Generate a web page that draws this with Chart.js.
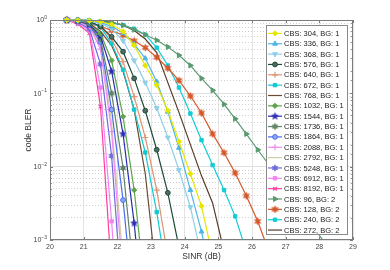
<!DOCTYPE html>
<html><head><meta charset="utf-8">
<script src="https://cdn.jsdelivr.net/npm/chart.js@4.4.1/dist/chart.umd.min.js"></script>
<style>html,body{margin:0;padding:0;background:#fff;}#wrap{width:390px;height:270px;}</style>
</head><body><div id="wrap"><canvas id="c" width="390" height="270"></canvas></div>
<script>
// SINR grid (dB)
const snr = [20.5, 20.83, 21.17, 21.5, 21.83, 22.17, 22.5, 22.83, 23.17, 23.5, 23.83, 24.17,
             24.5, 24.83, 25.17, 25.5, 25.83, 26.17, 26.5, 26.83, 27.17, 27.5, 27.83, 28.17];
const xTicks = [20, 21, 22, 23, 24, 25, 26, 27, 28, 29];
const yTickBase = '10';
const yTickExponents = [0, -1, -2, -3];

// code BLER per configuration
const bler304  = [1, 0.99, 0.98, 0.95, 0.87, 0.7, 0.45, 0.24, 0.13, 0.058, 0.022, 0.008, 0.0029, 0.0006];
const bler336  = [1, 0.99, 0.98, 0.93, 0.82, 0.66, 0.47, 0.3, 0.144, 0.056, 0.018, 0.0048, 0.0013, 0.00025];
const bler368  = [1, 0.99, 0.97, 0.9, 0.76, 0.52, 0.28, 0.14, 0.063, 0.025, 0.009, 0.0028, 0.0006];
const bler576  = [1, 0.99, 0.95, 0.82, 0.59, 0.37, 0.16, 0.058, 0.017, 0.0044, 0.0008, 0.0001];
const bler640  = [1, 0.99, 0.95, 0.82, 0.55, 0.27, 0.09, 0.025, 0.0048, 0.0006];
const bler672  = [1, 0.98, 0.93, 0.8, 0.48, 0.21, 0.06, 0.0156, 0.0024, 0.00028];
const bler768  = [1, 0.98, 0.9, 0.7, 0.45, 0.2, 0.06, 0.008, 0.0003];
const bler1032 = [1, 0.98, 0.9, 0.65, 0.28, 0.048, 0.0048, 0.0002];
const bler1544 = [1, 0.98, 0.88, 0.6, 0.2, 0.028, 0.0017, 0.00005];
const bler1736 = [1, 0.97, 0.86, 0.55, 0.1, 0.0096, 0.0003];
const bler1864 = [1, 0.97, 0.85, 0.5, 0.06, 0.0035, 0.0001];
const bler2088 = [1, 0.95, 0.82, 0.4, 0.03, 0.0003];
const bler2792 = [1, 0.95, 0.83, 0.45, 0.04, 0.0005];
const bler5248 = [1, 0.93, 0.76, 0.25, 0.014, 0.0001];
const bler6912 = [1, 0.92, 0.72, 0.12, 0.0018, 0.00001];
const bler8192 = [1, 0.88, 0.66, 0.066, 0.00035];
const bler96bg2  = [1, 0.99, 0.97, 0.94, 0.92, 0.85, 0.74, 0.63, 0.53, 0.43, 0.33, 0.24, 0.16, 0.11,
                    0.071, 0.045, 0.028, 0.017, 0.0107, 0.0068, 0.0042, 0.0025, 0.0015, 0.0009];
const bler128bg2 = [1, 0.96, 0.9, 0.82, 0.72, 0.62, 0.52, 0.42, 0.31, 0.22, 0.15, 0.092, 0.054, 0.028,
                    0.0155, 0.0082, 0.004, 0.0018, 0.0007];
const bler240bg2 = [1, 1, 0.99, 0.95, 0.91, 0.85, 0.76, 0.63, 0.42, 0.24, 0.12, 0.053, 0.023, 0.0105,
                    0.0048, 0.0021, 0.0007];
const bler272bg2 = [1, 1, 0.99, 0.97, 0.93, 0.85, 0.72, 0.55, 0.36, 0.14, 0.055, 0.02, 0.0075, 0.0032, 0.0007];

const seriesNames = ['CBS: 304, BG: 1','CBS: 336, BG: 1','CBS: 368, BG: 1','CBS: 576, BG: 1','CBS: 640, BG: 1',
  'CBS: 672, BG: 1','CBS: 768, BG: 1','CBS: 1032, BG: 1','CBS: 1544, BG: 1','CBS: 1736, BG: 1','CBS: 1864, BG: 1',
  'CBS: 2088, BG: 1','CBS: 2792, BG: 1','CBS: 5248, BG: 1','CBS: 6912, BG: 1','CBS: 8192, BG: 1',
  'CBS: 96, BG: 2','CBS: 128, BG: 2','CBS: 240, BG: 2','CBS: 272, BG: 2'];
const seriesValues = [bler304, bler336, bler368, bler576, bler640, bler672, bler768, bler1032, bler1544,
  bler1736, bler1864, bler2088, bler2792, bler5248, bler6912, bler8192, bler96bg2, bler128bg2, bler240bg2, bler272bg2];

function starMarker(n, R, r, fill, stroke) {
  const s = Math.ceil(2 * R + 3);
  const c = document.createElement('canvas'); c.width = s; c.height = s;
  const g = c.getContext('2d');
  g.beginPath();
  for (let k = 0; k < 2 * n; k++) {
    const a = -Math.PI / 2 + k * Math.PI / n;
    const rr = k % 2 === 0 ? R : r;
    const px = s / 2 + rr * Math.cos(a), py = s / 2 + rr * Math.sin(a);
    if (k === 0) g.moveTo(px, py); else g.lineTo(px, py);
  }
  g.closePath(); g.fillStyle = fill; g.fill(); g.strokeStyle = stroke; g.lineWidth = 0.7; g.stroke();
  return c;
}

const styles = [
  {c:'#e6e600', p:'rectRot', r:2.6},
  {c:'#4db6e6', p:'triangle', r:2.8},
  {c:'#8ecfe9', p:'triangle', r:2.8, rot:180},
  {c:'#1f4a38', p:'circle', r:2.4, bg:'#4f6e60'},
  {c:'#df9474', p:'cross', r:3},
  {c:'#12c9d1', p:'rect', r:2.4},
  {c:'#6b4a34', p:false, r:0},
  {c:'#5ca64a', p:'rectRot', r:2.6},
  {c:'#2b2bb5', p:starMarker(5, 3.6, 1.5, '#2b2bb5', '#2b2bb5'), r:3.5},
  {c:'#5e8364', p:starMarker(6, 3.2, 1.7, '#5e8364', '#5e8364'), r:3.5},
  {c:'#4a6cf0', p:'circle', r:2.4, bg:'#8ea6f6'},
  {c:'#f08cf0', p:'cross', r:3},
  {c:'#cfcfa6', p:false, r:0},
  {c:'#6b6bdc', p:starMarker(6, 3.2, 1.7, '#6b6bdc', '#6b6bdc'), r:3.5},
  {c:'#f284f0', p:'rect', r:2.4},
  {c:'#ff3d9e', p:'crossRot', r:2.6},
  {c:'#5a9a70', p:'triangle', r:3, rot:90},
  {c:'#d4582a', p:starMarker(6, 3.6, 1.7, '#d4582a', '#d4582a'), r:3.5},
  {c:'#12cdd4', p:'rect', r:2.4},
  {c:'#5a3b28', p:false, r:0}
];

const datasets = seriesNames.map((name, i) => {
  const st = styles[i];
  return {
    label: name,
    data: seriesValues[i].map((v, k) => ({x: snr[k], y: v})),
    borderColor: st.c,
    backgroundColor: st.c,
    borderWidth: 1.2,
    pointStyle: st.p || 'circle',
    pointRadius: st.r,
    pointHoverRadius: st.r,
    pointRotation: st.rot || 0,
    pointBackgroundColor: st.bg || st.c,
    pointBorderColor: st.c,
    pointBorderWidth: (st.p === 'cross' || st.p === 'crossRot') ? 1.2 : 1,
    tension: 0,
    fill: false,
    clip: {left: 0, right: 0, top: 6, bottom: 0}
  };
});

const FONT = '"Liberation Sans", Arial, Helvetica, sans-serif';
function isMajor(v) { const l = Math.log10(v); return Math.abs(l - Math.round(l)) < 1e-6; }

const framePlugin = {
  id: 'frame',
  afterDatasetsDraw(chart) {
    const {ctx, chartArea: a, scales: {x, y}} = chart;
    ctx.save();
    ctx.strokeStyle = '#7c7c7c'; ctx.lineWidth = 1;
    ctx.strokeRect(Math.round(a.left) + 0.5, Math.round(a.top) + 0.5,
                   Math.round(a.right - a.left) - 1, Math.round(a.bottom - a.top) - 1);
    ctx.beginPath();
    x.ticks.forEach(t => {
      const px = Math.round(x.getPixelForValue(t.value)) + 0.5;
      ctx.moveTo(px, a.bottom); ctx.lineTo(px, a.bottom - 3);
      ctx.moveTo(px, a.top); ctx.lineTo(px, a.top + 3);
    });
    y.ticks.forEach(t => {
      const py = Math.round(y.getPixelForValue(t.value)) + 0.5;
      const len = isMajor(t.value) ? 3 : 1.8;
      ctx.moveTo(a.left, py); ctx.lineTo(a.left + len, py);
      ctx.moveTo(a.right, py); ctx.lineTo(a.right - len, py);
    });
    ctx.stroke();
    // y tick labels: 10 with superscript exponent
    ctx.fillStyle = '#444';
    ctx.textBaseline = 'middle';
    yTickExponents.forEach(e => {
      const py = y.getPixelForValue(Math.pow(10, e));
      const exp = String(e).replace('-', '\u2212');
      ctx.font = '5px ' + FONT;
      const ew = ctx.measureText(exp).width;
      ctx.textAlign = 'right';
      ctx.fillText(exp, a.left - 3, py - 2.5);
      ctx.font = '7px ' + FONT;
      ctx.fillText(yTickBase, a.left - 3 - ew, py + 0.5);
    });
    ctx.restore();
  }
};

const legendPlugin = {
  id: 'boxLegend',
  afterDraw(chart) {
    const ctx = chart.ctx;
    const x0 = 266, y0 = 25, x1 = 347, y1 = 234;
    ctx.save();
    ctx.fillStyle = '#fff'; ctx.fillRect(x0, y0, x1 - x0, y1 - y0);
    ctx.strokeStyle = '#8a8a8a'; ctx.lineWidth = 1;
    ctx.strokeRect(x0 + 0.5, y0 + 0.5, x1 - x0, y1 - y0);
    chart.data.datasets.forEach((ds, i) => {
      const yy = 33.4 + i * 10.35;
      ctx.strokeStyle = ds.borderColor; ctx.lineWidth = ds.borderWidth;
      ctx.beginPath(); ctx.moveTo(268, yy); ctx.lineTo(282, yy); ctx.stroke();
      if (ds.pointRadius > 0) {
        ctx.fillStyle = ds.pointBackgroundColor; ctx.strokeStyle = ds.pointBorderColor;
        ctx.lineWidth = ds.pointBorderWidth;
        Chart.helpers.drawPoint(ctx, {pointStyle: ds.pointStyle, rotation: ds.pointRotation,
          radius: ds.pointRadius, borderWidth: ds.pointBorderWidth}, 275, yy);
      }
      ctx.fillStyle = '#222'; ctx.font = '7.5px ' + FONT;
      ctx.textBaseline = 'middle'; ctx.textAlign = 'left';
      ctx.fillText(ds.label, 284, yy + 0.5);
    });
    ctx.restore();
  }
};

new Chart(document.getElementById('c'), {
  type: 'line',
  data: {datasets},
  options: {
    responsive: false,
    animation: false,
    devicePixelRatio: 1,
    layout: {padding: {left: 24, right: 37, top: 20, bottom: 0}},
    plugins: {legend: {display: false}, tooltip: {enabled: false}},
    scales: {
      x: {
        type: 'linear', min: 20, max: 29,
        afterBuildTicks: s => { s.ticks = xTicks.map(v => ({value: v})); },
        afterFit: s => { s.height = 30; },
        ticks: {color: '#444', font: {family: FONT, size: 7}, padding: 3, autoSkip: false, maxRotation: 0},
        grid: {color: '#e4e4e4', lineWidth: 1, drawTicks: false},
        border: {display: false},
        title: {display: true, text: 'SINR (dB)', color: '#333', font: {family: FONT, size: 8.5}, padding: {top: 0, bottom: 8}}
      },
      y: {
        type: 'logarithmic', min: 0.001, max: 1,
        afterFit: s => { s.width = 26; },
        ticks: {display: true, color: 'rgba(0,0,0,0)', font: {family: FONT, size: 7}, padding: 3, autoSkip: false,
                callback: () => ''},
        grid: {color: ctx => (ctx.tick && isMajor(ctx.tick.value)) ? '#e0e0e0' : '#cfcfcf', lineWidth: 1, drawTicks: false},
        border: {display: false, dash: ctx => (ctx.tick && !isMajor(ctx.tick.value)) ? [1, 2] : []},
        title: {display: true, text: 'code BLER', color: '#333', font: {family: FONT, size: 8.5}, padding: {top: 0, bottom: 0}}
      }
    }
  },
  plugins: [framePlugin, legendPlugin]
});
</script>
</body></html>
